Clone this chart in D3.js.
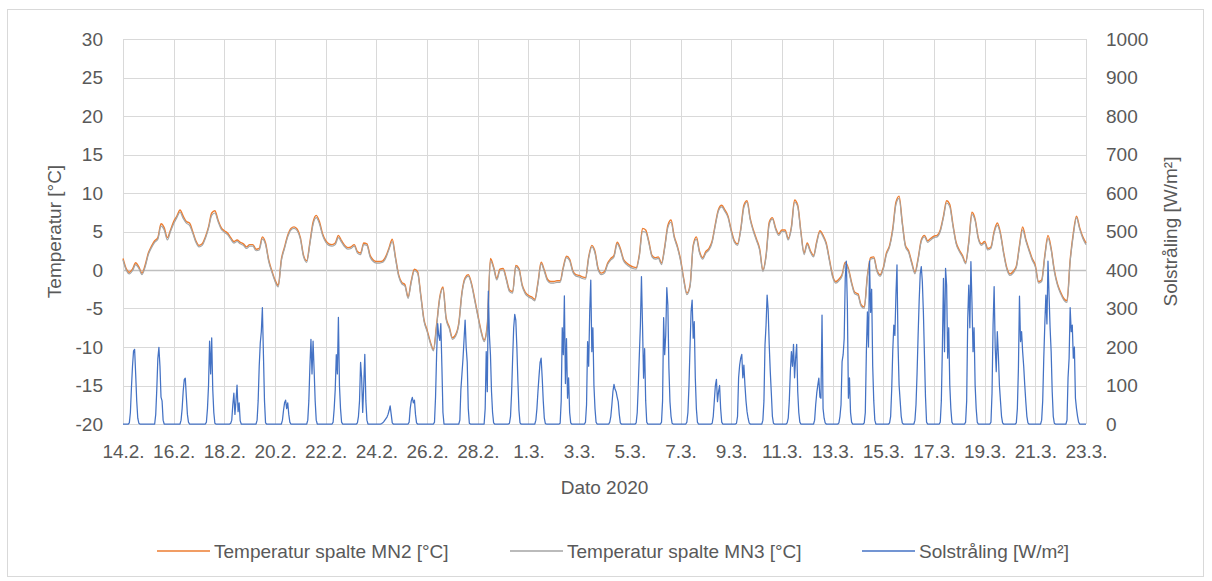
<!DOCTYPE html>
<html><head><meta charset="utf-8">
<script src="https://cdn.jsdelivr.net/npm/d3@7"></script>
<style>
body{margin:0;background:#fff;}
svg{display:block;font-family:"Liberation Sans",Arial,sans-serif;}
</style>
</head><body>
<svg id="chart" width="1212" height="581"></svg>
<script>
// ---------- DATA ----------
const seriesNames = ["Temperatur spalte MN2 [°C]", "Temperatur spalte MN3 [°C]", "Solstråling [W/m²]"];
const yLeftTitle = "Temperatur [°C]";
const yRightTitle = "Solstråling [W/m²]";
const xTitle = "Dato 2020";
const dateTickLabels = ["14.2.","16.2.","18.2.","20.2.","22.2.","24.2.","26.2.","28.2.","1.3.","3.3.","5.3.","7.3.","9.3.","11.3.","13.3.","15.3.","17.3.","19.3.","21.3.","23.3."];
const tempTicks = [-20,-15,-10,-5,0,5,10,15,20,25,30];
const solarTicks = [0,100,200,300,400,500,600,700,800,900,1000];
const year = 2020;
const tempStepHours = 3;      // temperatures read every 3 h from 14.2. 00:00
const solarFirstHour = 4;     // solar values per day for hours 04..20

const tempMN2 = [
 1.5,0.2,-0.3,0.1,0.95,0.4,-0.4,0.65,
 2.2,3.1,3.8,4.2,6.0,5.5,4.2,5.2,
 6.3,7.0,7.8,7.0,6.3,6.1,5.0,3.8,
 3.2,3.4,4.3,5.6,7.4,7.7,6.5,5.5,
 5.1,4.8,4.2,3.7,3.9,3.6,3.4,3.0,
 3.3,3.3,2.7,2.8,4.3,3.5,1.3,-0.1,
 -1.3,-2.0,1.4,3.0,4.5,5.4,5.6,5.3,
 4.2,1.9,1.2,3.6,6.2,7.1,6.3,4.7,
 3.8,3.4,3.3,3.5,4.5,3.8,3.2,2.9,
 3.0,3.3,2.4,2.2,3.5,3.4,1.9,1.3,
 1.1,1.1,1.2,1.8,2.9,4.0,1.7,-0.6,
 -1.6,-1.9,-3.5,-1.4,0.1,-0.2,-3.2,-6.4,
 -7.8,-9.3,-10.3,-7.1,-3.5,-2.2,-6.2,-7.4,
 -8.8,-8.4,-6.9,-2.9,-1.0,-0.6,-1.7,-3.7,
 -5.8,-7.8,-9.1,-7.1,1.5,0.4,-1.1,0.1,
 0.2,-1.1,-2.6,-2.8,0.6,0.2,-1.9,-2.9,
 -3.3,-3.5,-3.8,-1.6,1.0,0.0,-1.2,-1.5,
 -1.5,-1.4,-1.4,0.4,1.8,1.4,-0.1,-0.6,
 -0.7,-0.9,-1.0,1.7,3.2,2.4,0.2,-0.4,
 -0.2,0.9,1.5,1.9,3.6,2.8,1.4,0.9,
 0.6,0.4,0.3,2.0,5.4,5.2,3.7,1.9,
 1.6,1.7,0.9,3.0,5.8,6.5,4.4,3.1,
 1.4,-1.1,-3.0,-2.0,3.2,4.3,2.4,1.6,
 2.4,2.8,3.8,6.0,7.9,8.4,7.8,7.0,
 5.2,3.8,3.4,5.3,8.4,9.0,6.7,5.2,
 4.0,2.7,0.0,1.9,6.2,6.8,5.5,4.7,
 5.2,5.2,4.1,5.6,9.1,8.4,5.0,2.2,
 3.5,2.5,1.9,3.7,5.1,4.5,3.5,1.4,
 -0.7,-1.5,-1.2,-0.6,1.0,0.2,-1.6,-2.9,
 -3.1,-4.5,-4.8,-0.7,1.6,1.7,0.0,-0.6,
 0.3,2.2,3.2,5.4,8.8,9.6,6.2,3.2,
 2.5,1.0,-0.3,1.5,3.9,4.5,3.8,4.1,
 4.4,4.5,5.2,7.0,9.0,8.5,5.9,3.6,
 2.6,1.9,1.0,3.7,7.5,6.6,4.2,3.4,
 3.7,2.8,3.0,5.0,6.1,4.8,2.3,0.3,
 -0.5,-0.2,0.5,3.2,5.6,4.0,2.7,1.5,
 0.6,-1.5,-1.3,1.9,4.5,2.8,0.0,-1.8,
 -2.9,-3.7,-4.0,1.3,4.8,7.0,5.5,4.3,
 3.5
];
const tempMN3 = [
 1.3,0.0,-0.5,-0.1,0.7,0.2,-0.6,0.4,
 2.0,2.9,3.6,4.0,5.7,5.2,3.9,5.0,
 6.0,6.8,7.5,6.7,6.1,5.8,4.8,3.6,
 3.0,3.2,4.1,5.4,7.1,7.4,6.3,5.3,
 4.9,4.6,4.0,3.5,3.7,3.4,3.2,2.8,
 3.1,3.1,2.5,2.6,4.0,3.3,1.1,-0.3,
 -1.5,-2.2,1.2,2.8,4.3,5.2,5.4,5.1,
 4.0,1.7,1.0,3.4,5.9,6.8,6.0,4.5,
 3.6,3.2,3.1,3.3,4.2,3.6,3.0,2.7,
 2.8,3.1,2.2,2.0,3.3,3.2,1.7,1.1,
 0.9,0.9,1.0,1.6,2.7,3.7,1.5,-0.8,
 -1.8,-2.1,-3.7,-1.6,-0.1,-0.4,-3.4,-6.6,
 -8.0,-9.5,-10.5,-7.3,-3.7,-2.4,-6.4,-7.6,
 -9.0,-8.6,-7.1,-3.1,-1.2,-0.8,-1.9,-3.9,
 -6.0,-8.0,-9.3,-7.3,1.2,0.2,-1.3,-0.1,
 0.0,-1.3,-2.8,-3.0,0.4,0.0,-2.1,-3.1,
 -3.5,-3.7,-4.0,-1.8,0.8,-0.2,-1.4,-1.7,
 -1.7,-1.6,-1.6,0.2,1.6,1.2,-0.3,-0.8,
 -0.9,-1.1,-1.2,1.5,3.0,2.2,0.0,-0.6,
 -0.4,0.7,1.3,1.7,3.4,2.6,1.2,0.7,
 0.4,0.2,0.1,1.8,5.0,4.9,3.5,1.7,
 1.4,1.5,0.7,2.8,5.5,6.2,4.2,2.9,
 1.2,-1.3,-3.2,-2.2,3.0,4.0,2.2,1.4,
 2.2,2.6,3.6,5.8,7.7,8.2,7.6,6.8,
 5.0,3.6,3.2,5.1,8.1,8.8,6.5,5.0,
 3.8,2.5,-0.2,1.7,5.9,6.6,5.3,4.5,
 5.0,5.0,3.9,5.4,8.8,8.2,4.8,2.0,
 3.3,2.3,1.7,3.5,4.9,4.3,3.3,1.2,
 -0.9,-1.7,-1.4,-0.8,0.8,0.0,-1.8,-3.1,
 -3.3,-4.7,-5.0,-0.9,1.4,1.5,-0.2,-0.8,
 0.1,2.0,3.0,5.1,8.5,9.3,6.0,3.0,
 2.3,0.8,-0.5,1.3,3.7,4.3,3.6,3.9,
 4.2,4.3,5.0,6.8,8.7,8.2,5.7,3.4,
 2.4,1.7,0.8,3.5,7.2,6.4,4.0,3.2,
 3.5,2.6,2.8,4.8,5.8,4.6,2.1,0.1,
 -0.7,-0.4,0.3,3.0,5.2,3.8,2.5,1.3,
 0.4,-1.7,-1.5,1.7,4.1,2.6,-0.2,-2.0,
 -3.1,-3.9,-4.2,1.1,4.5,6.8,5.3,4.1,
 3.3
];
// Solar radiation, one row per day (14.2. ... 22.3.), hourly values for 04:00..20:00 (night = 0)
const solarByDay = [
 [0,0,3,30,95,150,190,194,130,60,15,2,0,0,0,0,0],
 [0,0,0,25,90,170,199,150,70,60,10,0,0,0,0,0,0],
 [0,0,0,10,40,85,115,119,70,25,5,0,0,0,0,0,0],
 [0,0,0,5,40,100,215,130,224,90,30,2,0,0,0,0,0],
 [0,0,2,10,50,80,25,60,101,32,55,8,0,0,0,0,0],
 [0,0,0,10,60,150,210,240,302,180,60,3,0,0,0,0,0],
 [0,0,0,10,35,55,62,40,55,25,5,0,0,0,0,0,0],
 [0,0,0,10,60,150,220,130,215,140,60,10,0,0,0,0,0],
 [0,0,0,5,40,90,180,130,277,100,40,5,0,0,0,0,0],
 [0,0,3,20,60,160,120,30,100,181,60,10,0,0,0,0,0],
 [0,1,3,6,10,14,18,25,35,47,25,3,0,0,0,0,0],
 [0,0,0,5,40,60,69,55,62,25,3,0,0,0,0,0,0],
 [0,0,0,5,70,180,261,230,217,261,150,30,0,0,0,0,0],
 [0,0,0,10,90,130,170,220,270,200,160,40,2,0,0,0,0],
 [0,0,0,40,188,84,345,231,180,84,30,3,0,0,0,0,0],
 [0,0,2,20,80,170,250,285,270,200,110,35,3,0,0,0,0],
 [0,0,0,10,40,85,125,160,171,120,60,15,1,0,0,0,0],
 [0,0,2,60,250,180,333,105,222,67,120,30,3,0,0,0,0],
 [0,0,5,50,214,150,291,374,188,250,100,40,5,0,0,0,0],
 [0,5,20,50,85,103,90,84,70,58,25,3,0,0,0,0,0],
 [0,0,3,30,100,180,257,383,257,119,196,60,5,0,0,0,0],
 [0,0,5,60,276,180,231,354,309,145,58,20,2,0,0,0,0],
 [0,0,5,30,100,200,293,322,223,266,119,40,5,0,0,0,0],
 [0,0,2,20,60,100,116,58,84,100,40,5,0,0,0,0,0],
 [0,2,20,120,153,171,181,120,153,101,60,32,15,3,0,0,0],
 [0,0,10,60,205,257,335,296,205,136,80,20,2,0,0,0,0],
 [0,3,15,60,136,188,150,207,120,171,207,84,30,5,0,0,0],
 [0,0,0,10,50,80,101,119,70,67,283,40,15,3,0,0,0],
 [0,0,3,20,50,162,180,222,380,423,309,67,120,30,5,0,0],
 [0,0,3,30,188,291,200,423,290,350,150,60,10,0,0,0,0],
 [0,0,3,20,90,190,257,230,335,413,205,101,60,20,3,0,0],
 [0,0,10,50,130,230,320,390,409,370,290,180,70,5,0,0,0],
 [0,0,5,60,200,378,188,404,361,171,250,101,40,5,0,0,0],
 [0,0,5,60,274,361,250,422,317,188,250,101,40,5,0,0,0],
 [0,0,5,80,257,357,200,136,240,180,101,60,20,3,0,0,0],
 [0,0,3,40,145,332,214,240,188,150,101,58,20,3,0,0,0],
 [0,0,10,60,170,260,335,260,423,335,250,188,84,20,2,0,0],
 [0,0,10,120,171,302,240,257,171,200,67,40,20,5,0,0,0]
];
const colors = {mn2:"#ED7D31", mn3:"#A5A5A5", sol:"#4472C4", grid:"#D9D9D9", zero:"#BFBFBF", text:"#595959"};

// ---------- BUILD ----------
const HOUR = 3600*1000;
function parseLabel(s){ const p=s.split("."); return Date.UTC(year, +p[1]-1, +p[0]); }
const tickDates = dateTickLabels.map(parseLabel);
const t0 = tickDates[0], t1 = tickDates[tickDates.length-1];

const mn2Pts = tempMN2.map((v,i)=>({t:t0+i*tempStepHours*HOUR, v}));
const mn3Pts = tempMN3.map((v,i)=>({t:t0+i*tempStepHours*HOUR, v}));
const solPts = [];
solarByDay.forEach((row,d)=>{
  for(let h=0;h<24;h++){
    const idx=h-solarFirstHour;
    solPts.push({t:t0+(d*24+h)*HOUR, v:(idx>=0 && idx<row.length)?row[idx]:0});
  }
});
solPts.push({t:t1, v:0});

const m={l:123,r:1086,t:39,b:424};
const svg=d3.select("#chart");
svg.append("rect").attr("x",7.5).attr("y",9.5).attr("width",1196).attr("height",567)
  .attr("fill","#fff").attr("stroke",colors.grid).attr("stroke-width",1);

const x=d3.scaleUtc().domain([t0,t1]).range([m.l,m.r]);
const yL=d3.scaleLinear().domain([tempTicks[0],tempTicks[tempTicks.length-1]]).range([m.b,m.t]);
const yR=d3.scaleLinear().domain([solarTicks[0],solarTicks[solarTicks.length-1]]).range([m.b,m.t]);

// gridlines
const g=svg.append("g");
g.selectAll(".hg").data(tempTicks).enter().append("line")
  .attr("x1",m.l).attr("x2",m.r)
  .attr("y1",d=>Math.round(yL(d))+0.5).attr("y2",d=>Math.round(yL(d))+0.5)
  .attr("stroke",d=>d===0?colors.zero:colors.grid).attr("stroke-width",d=>d===0?1.3:1);
g.selectAll(".vg").data(tickDates).enter().append("line")
  .attr("y1",m.t).attr("y2",m.b)
  .attr("x1",d=>Math.round(x(d))+0.5).attr("x2",d=>Math.round(x(d))+0.5)
  .attr("stroke",colors.grid).attr("stroke-width",1);

// axes (labels only, via d3 axes)
const fs=19;
const plain=d=>String(d);
const axL=svg.append("g").attr("transform",`translate(${m.l},0)`)
  .call(d3.axisLeft(yL).tickValues(tempTicks).tickFormat(plain).tickSize(0).tickPadding(20));
const axR=svg.append("g").attr("transform",`translate(${m.r},0)`)
  .call(d3.axisRight(yR).tickValues(solarTicks).tickFormat(plain).tickSize(0).tickPadding(20));
const axB=svg.append("g").attr("transform",`translate(0,${m.b})`)
  .call(d3.axisBottom(x).tickValues(tickDates).tickSize(0).tickPadding(21)
    .tickFormat((d,i)=>dateTickLabels[i]));
[axL,axR,axB].forEach(a=>{
  a.select(".domain").remove();
  a.selectAll("text").attr("fill",colors.text).style("font-size",fs+"px")
   .style("font-family","'Liberation Sans',Arial,sans-serif");
});

// lines
const lineT=d3.line().x(d=>x(d.t)).y(d=>yL(d.v)).curve(d3.curveMonotoneX);
const lineS=d3.line().x(d=>x(d.t)).y(d=>yR(d.v));
svg.append("path").datum(mn2Pts).attr("d",lineT).attr("fill","none").attr("stroke",colors.mn2).attr("stroke-width",1.4);
svg.append("path").datum(mn3Pts).attr("d",lineT).attr("fill","none").attr("stroke",colors.mn3).attr("stroke-width",1.2);
svg.append("path").datum(solPts).attr("d",lineS).attr("fill","none").attr("stroke",colors.sol).attr("stroke-width",1.25).attr("stroke-linejoin","round");

// titles
const tstyle=s=>s.attr("fill",colors.text).style("font-size",fs+"px");
svg.append("text").attr("transform",`translate(61,${(m.t+m.b)/2}) rotate(-90)`)
  .attr("text-anchor","middle").text(yLeftTitle).call(tstyle);
svg.append("text").attr("transform",`translate(1177,${(m.t+m.b)/2}) rotate(-90)`)
  .attr("text-anchor","middle").text(yRightTitle).call(tstyle);
svg.append("text").attr("x",(m.l+m.r)/2).attr("y",494).attr("text-anchor","middle").text(xTitle).call(tstyle);

// legend
const legX=[157,510,862];
const legC=[colors.mn2,colors.mn3,colors.sol];
const lg=svg.append("g");
seriesNames.forEach((n,i)=>{
  lg.append("line").attr("x1",legX[i]).attr("x2",legX[i]+53).attr("y1",551).attr("y2",551)
    .attr("stroke",legC[i]).attr("stroke-width",1.5);
  lg.append("text").attr("x",legX[i]+57).attr("y",557.5).text(n).call(tstyle);
});
</script>
</body></html>
